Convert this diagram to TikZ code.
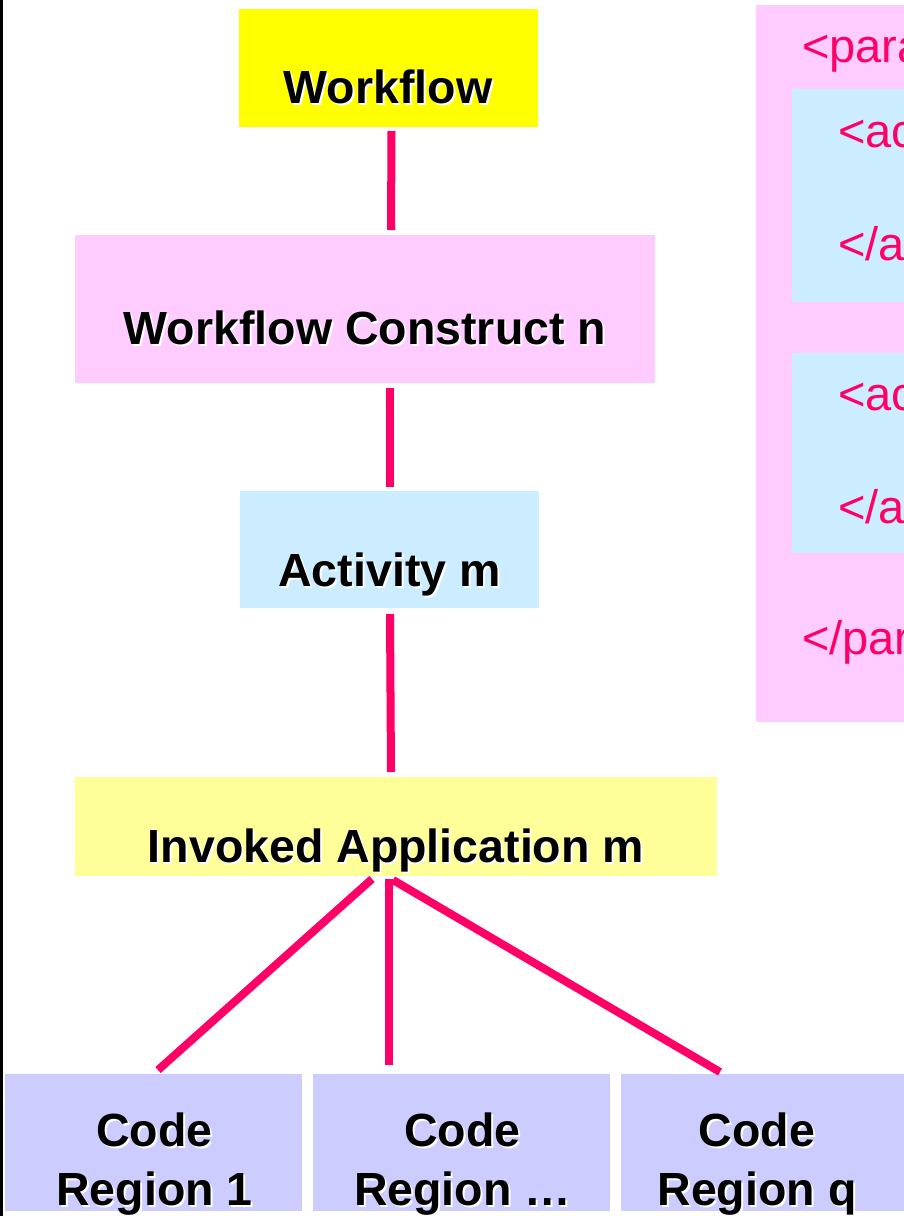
\documentclass[tikz,border=0pt]{standalone}
\usepackage{fontspec}
\setmainfont{Liberation Sans}
\definecolor{wfyellow}{HTML}{FFFF00}
\definecolor{wfpink}{HTML}{FFCCFF}
\definecolor{wfblue}{HTML}{CCECFF}
\definecolor{wflightyellow}{HTML}{FFFF99}
\definecolor{wflavender}{HTML}{CCCCFF}
\definecolor{wfline}{HTML}{FF0066}
\newcommand\shd[1]{\makebox[0pt][l]{\kern2pt\raisebox{-2pt}{\textcolor{white}{#1}}}#1}
\tikzset{
  box/.style={rectangle, draw=none, inner sep=0pt, outer sep=0pt},
  lbl/.style={inner sep=0pt, outer sep=0pt, anchor=base, text=black,
    font=\bfseries\fontsize{46.5}{56}\selectfont},
  tag/.style={inner sep=0pt, outer sep=0pt, anchor=base west, text=wfline,
    font=\fontsize{47}{56}\selectfont},
  conn/.style={draw=wfline, line width=8pt, line cap=butt}
}
\begin{document}
\begin{tikzpicture}[x=1pt, y=-1pt]
\useasboundingbox (0,0) rectangle (904,1216);
\clip (0,0) rectangle (904,1216);
\fill[white] (0,0) rectangle (904,1216);
\draw[black, line width=2.5pt] (1.25,0) -- (1.25,1216);

% left tree
\node[box, fill=wfyellow, minimum width=299, minimum height=118] (wf) at (388.5,68) {};
\node[lbl] (wft) at (388,103) {\shd{Workflow}};
\node[box, fill=wfpink, minimum width=580, minimum height=148] (wfc) at (365,309) {};
\node[lbl] (wfct) at (365,344) {\shd{Workflow Construct n}};
\node[box, fill=wfblue, minimum width=299, minimum height=117] (act) at (389.5,549.5) {};
\node[lbl] (actt) at (389.5,586) {\shd{Activity m}};
\node[box, fill=wflightyellow, minimum width=642, minimum height=99] (inv) at (396,826.5) {};
\node[lbl] (invt) at (396,862) {\shd{Invoked Application m}};

\node[box, fill=wflavender, minimum width=297, minimum height=137] (cr1) at (153.5,1142.5) {};
\node[box, fill=wflavender, minimum width=297, minimum height=137] (cr2) at (461.5,1142.5) {};
\node[box, fill=wflavender, minimum width=283, minimum height=137] (cr3) at (762.5,1142.5) {};
\node[lbl] (cr1a) at (154.5,1146) {\shd{Code}};
\node[lbl] (cr1b) at (154.5,1205) {\shd{Region 1}};
\node[lbl] (cr2a) at (462.5,1146) {\shd{Code}};
\node[lbl] (cr2b) at (462.5,1205) {\shd{Region \dots}};
\node[lbl] (cr3a) at (757,1146) {\shd{Code}};
\node[lbl] (cr3b) at (757,1205) {\shd{Region q}};

% connectors
\draw[conn] ([xshift=3pt,yshift=-4pt]wf.south) -- ([xshift=26pt,yshift=5pt]wfc.north);
\draw[conn] ([xshift=25pt,yshift=-5pt]wfc.south) -- ([xshift=0.5pt,yshift=4pt]act.north);
\draw[conn] ([xshift=0.5pt,yshift=-6pt]act.south) -- ([xshift=-5pt,yshift=5pt]inv.north);
\draw[conn] ([xshift=-24pt,yshift=-3pt]inv.south) -- ([xshift=4.5pt,yshift=4pt]cr1.north);
\draw[conn] ([xshift=-7pt,yshift=-3pt]inv.south) -- ([xshift=-72.5pt,yshift=9pt]cr2.north);
\draw[conn] ([xshift=-3pt,yshift=-4pt]inv.south) -- ([xshift=-42.5pt,yshift=2pt]cr3.north);

% right panel
\node[box, fill=wfpink, minimum width=164, minimum height=717] (par) at (838,363.5) {};
\node[box, fill=wfblue, minimum width=128, minimum height=212.5] (ac1) at (856,195.25) {};
\node[box, fill=wfblue, minimum width=128, minimum height=200] (ac2) at (856,453) {};
\node[tag] (p1) at (802,62) {<parallel>};
\node[tag] (a1) at (838,147) {<activity>};
\node[tag] (a1e) at (838,260) {</activity>};
\node[tag] (a2) at (838,410) {<activity>};
\node[tag] (a2e) at (838,523) {</activity>};
\node[tag] (p1e) at (802,654) {</parallel>};
\end{tikzpicture}
\end{document}
